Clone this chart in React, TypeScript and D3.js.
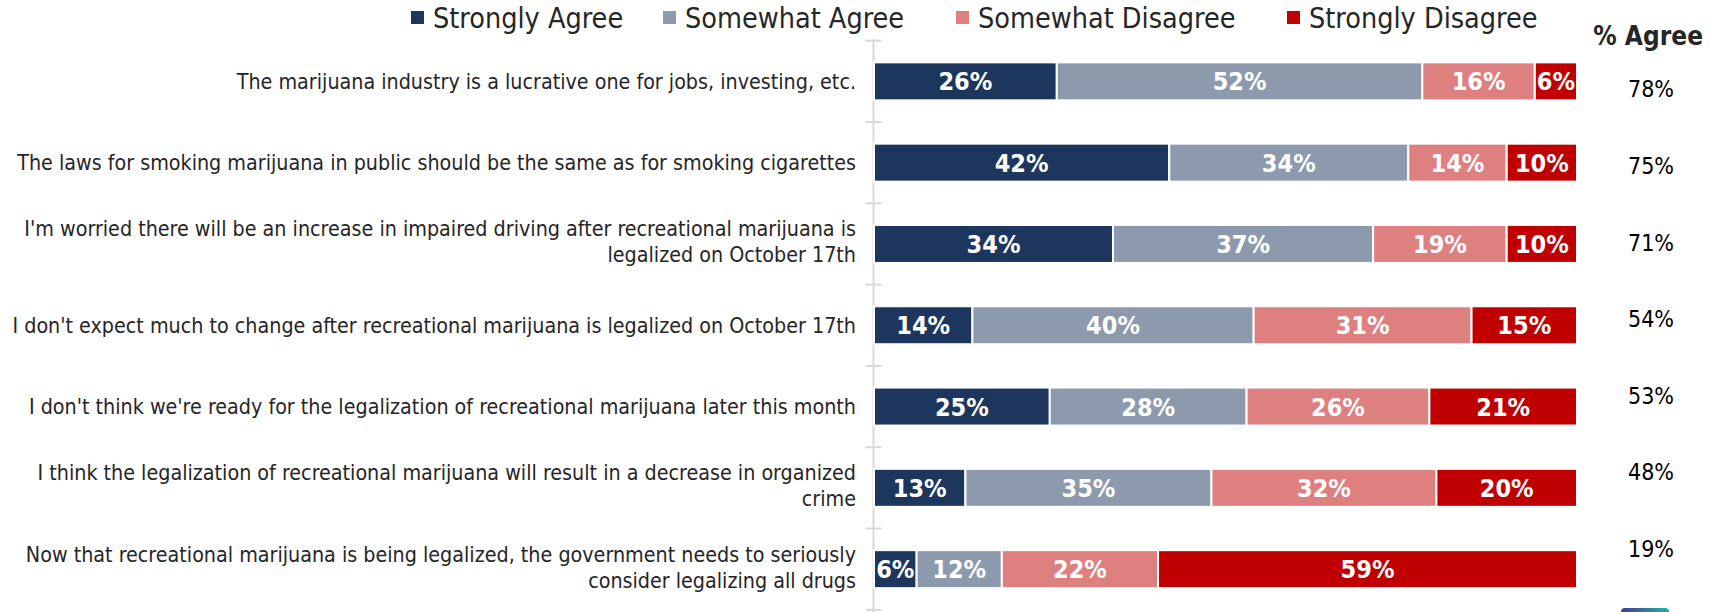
import React from "react";
import * as d3 from "d3";

const categories: string[][] = [
  ["The marijuana industry is a lucrative one for jobs, investing, etc."],
  ["The laws for smoking marijuana in public should be the same as for smoking cigarettes"],
  ["I'm worried there will be an increase in impaired driving after recreational marijuana is", "legalized on October 17th"],
  ["I don't expect much to change after recreational marijuana is legalized on October 17th"],
  ["I don't think we're ready for the legalization of recreational marijuana later this month"],
  ["I think the legalization of recreational marijuana will result in a decrease in organized", "crime"],
  ["Now that recreational marijuana is being legalized, the government needs to seriously", "consider legalizing all drugs"],
];

const seriesNames = ["Strongly Agree", "Somewhat Agree", "Somewhat Disagree", "Strongly Disagree"];
const seriesColors = ["#1d365d", "#8d9aae", "#de8080", "#c00000"];

const stronglyAgree = [26, 42, 34, 14, 25, 13, 6];
const somewhatAgree = [52, 34, 37, 40, 28, 35, 12];
const somewhatDisagree = [16, 14, 19, 31, 26, 32, 22];
const stronglyDisagree = [6, 10, 10, 15, 21, 20, 59];
const pctAgree = [78, 75, 71, 54, 53, 48, 19];

const FONT = "'Liberation Sans Narrow', 'DejaVu Sans Condensed', 'Open Sans', sans-serif";

export default function App() {
  const W = 1710, H = 612;
  const rows = categories.map((c, i) => ({
    i,
    "Strongly Agree": stronglyAgree[i],
    "Somewhat Agree": somewhatAgree[i],
    "Somewhat Disagree": somewhatDisagree[i],
    "Strongly Disagree": stronglyDisagree[i],
  }));
  const stack = d3.stack<any>().keys(seriesNames).offset(d3.stackOffsetExpand)(rows);

  const x = d3.scaleLinear().domain([0, 1]).range([874, 1577]);
  const y = d3.scaleBand<number>().domain(d3.range(categories.length)).range([40.7, 609.8]).paddingInner(0.533).paddingOuter(0.2665);
  const yPct = d3.scaleLinear().domain([0, categories.length - 1]).range([89.4, 548.6]);
  const axisX = 873.5;
  const ticks = d3.range(categories.length + 1).map((k) => 40.7 + k * y.step());

  const legendX = [411, 663, 956, 1287];

  return (
    <svg width={W} height={H} style={{ position: "absolute", left: 0, top: 0, background: "#fff" }} fontFamily={FONT}>
      <defs>
        <linearGradient id="logo" x1="0" x2="1">
          <stop offset="0" stopColor="#4a3c8c" />
          <stop offset="1" stopColor="#1fb2a6" />
        </linearGradient>
      </defs>
      {/* legend */}
      {seriesNames.map((s, k) => (
        <g key={s} transform={`translate(${legendX[k]},18)`}>
          <rect x={0} y={-7} width={13} height={13} fill={seriesColors[k]} />
          <text x={22} y={0} dy="0.35em" fontSize={28.5} fill="#262626">{s}</text>
        </g>
      ))}
      <text x={1703} y={36} dy="0.35em" textAnchor="end" fontSize={26} fontWeight="bold" fill="#262626">% Agree</text>

      {/* axis */}
      <line x1={axisX} x2={axisX} y1={39} y2={612} stroke="#d9d9d9" strokeWidth={2} />
      {ticks.map((t, k) => (
        <line key={k} x1={axisX - 8} x2={axisX + 8} y1={t} y2={t} stroke="#d9d9d9" strokeWidth={2} />
      ))}

      {/* category labels */}
      {categories.map((lines, i) => {
        const cy = (y(i) as number) + y.bandwidth() / 2;
        const lh = 26;
        const y0 = cy - ((lines.length - 1) * lh) / 2 - (lines.length > 1 ? 2 : 0);
        return (
          <text key={i} textAnchor="end" fontSize={21.3} fill="#262626">
            {lines.map((l, j) => (
              <tspan key={j} x={856} y={y0 + j * lh} dy="0.35em">{l}</tspan>
            ))}
          </text>
        );
      })}

      {/* bars */}
      {stack.map((s, k) => (
        <g key={s.key} fill={seriesColors[k]}>
          {s.map((d, i) => (
            <g key={i}>
              <rect x={x(d[0])} y={y(i)} width={x(d[1]) - x(d[0])} height={y.bandwidth()} stroke="#fff" strokeWidth={2} />
              <text x={(x(d[0]) + x(d[1])) / 2} y={(y(i) as number) + y.bandwidth() / 2} dy="0.36em" textAnchor="middle" fill="#fff" fontWeight="bold" fontSize={25}>
                {(d.data as any)[s.key]}%
              </text>
            </g>
          ))}
        </g>
      ))}

      {/* % agree */}
      {pctAgree.map((v, i) => (
        <text key={i} x={1674} y={yPct(i)} dy="0.35em" textAnchor="end" fontSize={23} fill="#000">{v}%</text>
      ))}

      <rect x={1621} y={608} width={48} height={10} rx={4} fill="url(#logo)" />
    </svg>
  );
}
